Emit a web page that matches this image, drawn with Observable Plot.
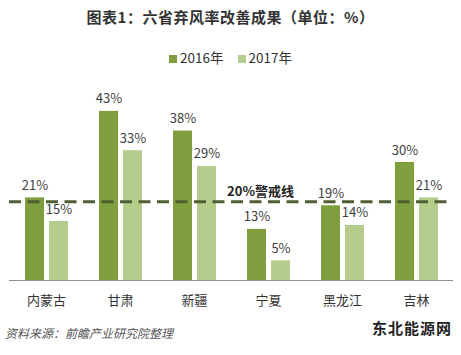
<!DOCTYPE html>
<html>
<head>
<meta charset="utf-8">
<script src="https://cdn.jsdelivr.net/npm/d3@7"></script>
<script src="https://cdn.jsdelivr.net/npm/@observablehq/plot@0.6"></script>
<style>
  body { margin: 0; background: #fff; font-family: "Noto Sans CJK SC", "Noto Sans", sans-serif; }
  #wrap { position: relative; width: 461px; height: 355px; overflow: hidden; }
  #title { position: absolute; top: 6px; left: 0; width: 461px; text-align: center; font-size: 15px; font-weight: bold; color: #333; line-height: 22px; letter-spacing: 0.5px; }
  #legend { position: absolute; top: 47px; left: 0; width: 461px; text-align: center; font-size: 13.5px; color: #333; line-height: 20px; }
  #legend span.sw { display: inline-block; width: 8px; height: 8px; margin-right: 3px; vertical-align: 0px; }
  #legend span.it { margin: 0 7px; }
  #chart { position: absolute; top: 75px; left: 0; }
  #caption { position: absolute; top: 324px; left: 5px; font-size: 12px; font-style: italic; color: #555; line-height: 18px; white-space: nowrap; }
  #logo { position: absolute; top: 318px; left: 372px; font-size: 15px; font-weight: bold; color: #222; letter-spacing: 1px; line-height: 20px; white-space: nowrap; }
</style>
</head>
<body>
<div id="wrap">
  <div id="title">图表1：六省弃风率改善成果（单位：%）</div>
  <div id="legend"></div>
  <div id="chart"></div>
  <div id="caption">资料来源：前瞻产业研究院整理</div>
  <div id="logo">东北能源网</div>
</div>
<script>
const provinces = ["内蒙古", "甘肃", "新疆", "宁夏", "黑龙江", "吉林"];
const years = ["2016年", "2017年"];
const values2016 = [21, 43, 38, 13, 19, 30];
const values2017 = [15, 33, 29, 5, 14, 21];
const threshold = [20];
const thresholdLabel = "20%警戒线";
const colors = ["#7f9f3e", "#b4cc8c"];

const data = [];
provinces.forEach((p, i) => {
  data.push({province: p, year: years[0], value: values2016[i]});
  data.push({province: p, year: years[1], value: values2017[i]});
});

const legend = document.getElementById("legend");
legend.innerHTML = years.map((y, i) =>
  `<span class="it"><span class="sw" style="background:${colors[i]}"></span>${y}</span>`).join("");

const chart = Plot.plot({
  width: 461,
  height: 240,
  marginTop: 28,
  marginBottom: 35,
  marginLeft: 9,
  marginRight: 8,
  style: {fontFamily: "'Noto Sans CJK SC', sans-serif", fontSize: "13px", color: "#333", background: "transparent"},
  fx: {domain: provinces, padding: 0, label: null, tickSize: 0, tickPadding: 15, axis: "bottom"},
  x: {domain: years, paddingInner: 0.21, paddingOuter: 0.6, axis: null},
  y: {domain: [0, 45], axis: null},
  color: {domain: years, range: colors},
  marks: [
    Plot.barY(data, {fx: "province", x: "year", y: "value", fill: "year"}),
    Plot.ruleY([0], {stroke: "#8c8c8c", strokeWidth: 1}),
    Plot.ruleY(threshold, {stroke: "#4f5f33", strokeWidth: 3, strokeDasharray: "12,6.5"}),
    Plot.text(data, {fx: "province", x: "year", y: "value", text: d => d.value + "%", lineAnchor: "bottom", dy: -8, fill: "#404040", fontSize: 13}),
    Plot.text([thresholdLabel], {fx: ["宁夏"], y: threshold, text: d => d, frameAnchor: "middle", lineAnchor: "bottom", dy: -6, dx: -8, fontWeight: "bold", fill: "#222", fontSize: 13})
  ]
});
document.getElementById("chart").appendChild(chart);
</script>
</body>
</html>
